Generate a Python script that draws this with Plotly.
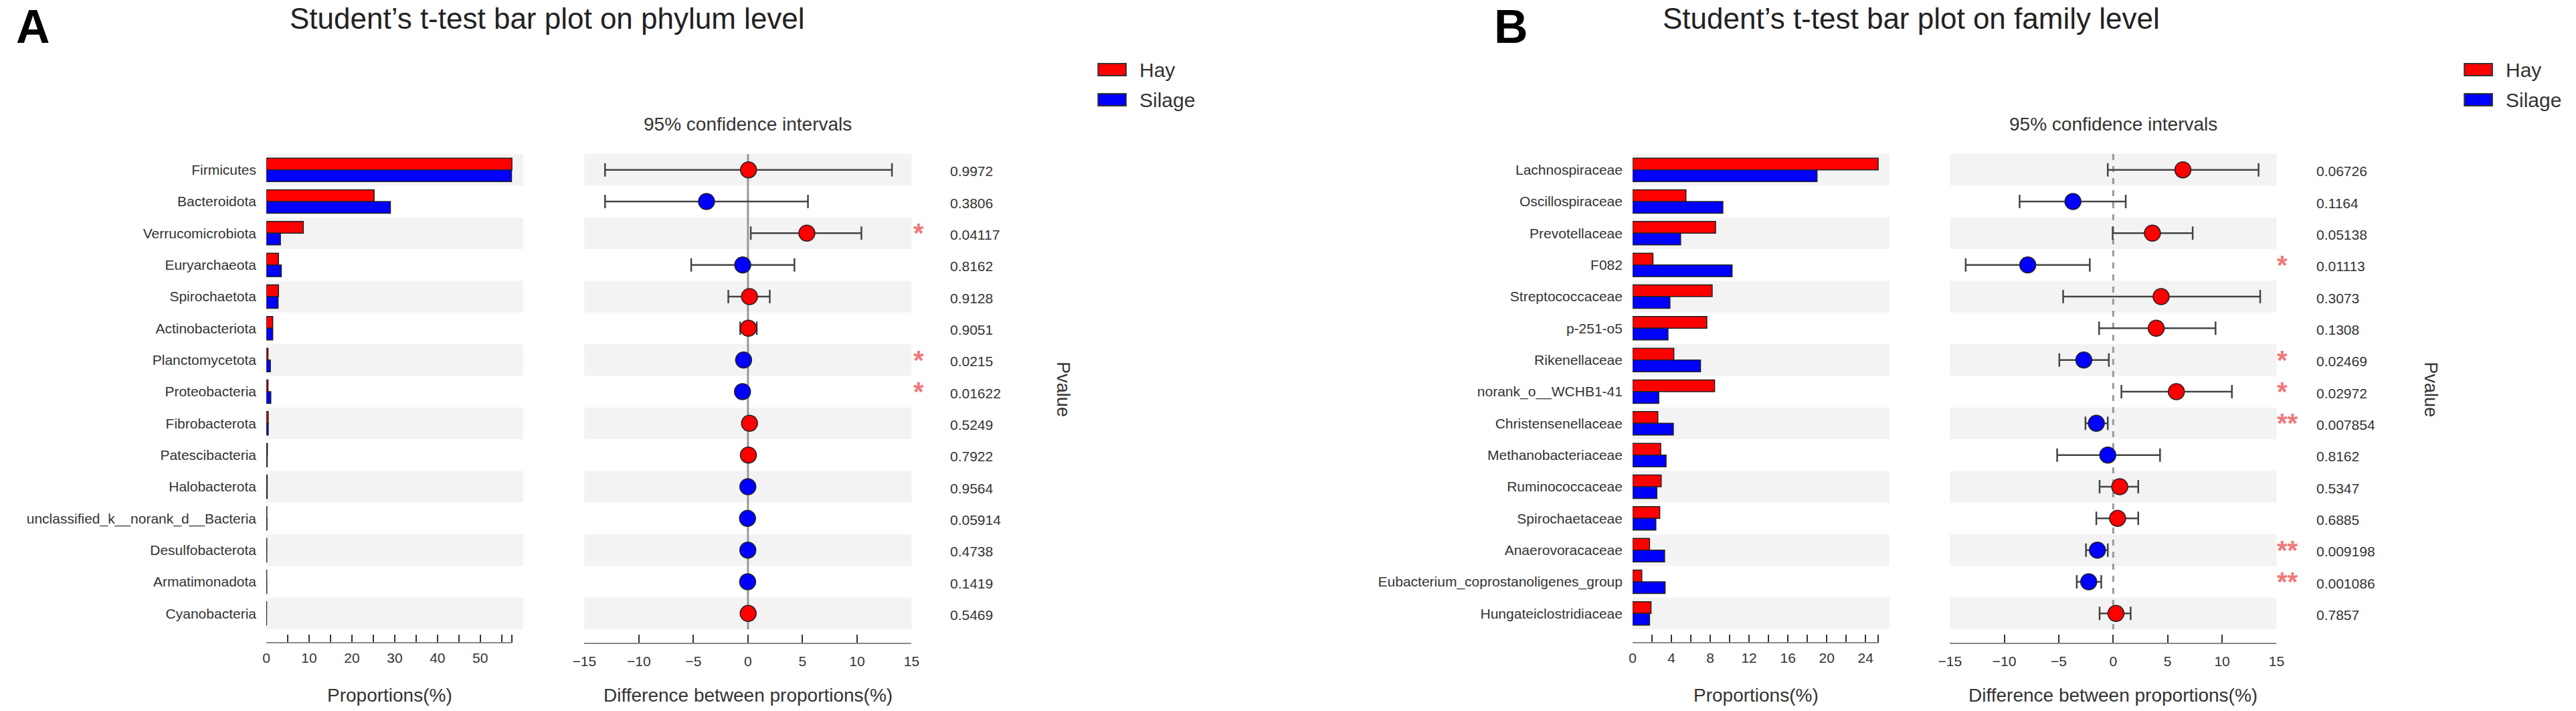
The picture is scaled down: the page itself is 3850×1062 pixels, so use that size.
import plotly.graph_objects as go


W, H = 3850, 1062

# ---- phylum level (panel A) ----
PHYLA = [
    "Firmicutes", "Bacteroidota", "Verrucomicrobiota", "Euryarchaeota",
    "Spirochaetota", "Actinobacteriota", "Planctomycetota", "Proteobacteria",
    "Fibrobacterota", "Patescibacteria", "Halobacterota",
    "unclassified_k__norank_d__Bacteria", "Desulfobacterota",
    "Armatimonadota", "Cyanobacteria",
]
PHYLUM_HAY = [57.4, 25.2, 8.65, 2.85, 2.85, 1.5, 0.4, 0.4, 0.45, 0.25, 0.2, 0.12, 0.1, 0.08, 0.06]
PHYLUM_SILAGE = [57.3, 29.0, 3.3, 3.5, 2.75, 1.5, 0.95, 1.05, 0.45, 0.2, 0.2, 0.15, 0.1, 0.1, 0.05]
PHYLUM_DIFF = [0.05, -3.8, 5.4, -0.48, 0.14, 0.04, -0.4, -0.5, 0.14, 0.04, -0.01, -0.04, -0.01, -0.03, 0.02]
PHYLUM_LOW = [-13.1, -13.1, 0.26, -5.2, -1.8, -0.71, -0.65, -0.8, -0.3, -0.25, -0.3, -0.3, -0.2, -0.25, -0.2]
PHYLUM_HIGH = [13.2, 5.5, 10.4, 4.26, 2.0, 0.81, -0.15, -0.2, 0.6, 0.35, 0.28, 0.0, 0.18, 0.2, 0.25]
PHYLUM_P = [0.9972, 0.3806, 0.04117, 0.8162, 0.9128, 0.9051, 0.0215, 0.01622,
            0.5249, 0.7922, 0.9564, 0.05914, 0.4738, 0.1419, 0.5469]

# ---- family level (panel B) ----
FAMILIES = [
    "Lachnospiraceae", "Oscillospiraceae", "Prevotellaceae", "F082",
    "Streptococcaceae", "p-251-o5", "Rikenellaceae", "norank_o__WCHB1-41",
    "Christensenellaceae", "Methanobacteriaceae", "Ruminococcaceae",
    "Spirochaetaceae", "Anaerovoracaceae",
    "Eubacterium_coprostanoligenes_group", "Hungateiclostridiaceae",
]
FAMILY_HAY = [25.3, 5.5, 8.55, 2.1, 8.2, 7.65, 4.25, 8.45, 2.6, 2.9, 2.95, 2.8, 1.75, 0.95, 1.9]
FAMILY_SILAGE = [19.0, 9.3, 4.95, 10.25, 3.85, 3.65, 7.0, 2.7, 4.2, 3.45, 2.5, 2.4, 3.3, 3.35, 1.75]
FAMILY_DIFF = [6.4, -3.7, 3.6, -7.85, 4.4, 3.95, -2.7, 5.8, -1.55, -0.5, 0.6, 0.4, -1.45, -2.25, 0.25]
FAMILY_LOW = [-0.5, -8.6, -0.05, -13.55, -4.6, -1.3, -4.95, 0.75, -2.55, -5.15, -1.25, -1.55, -2.5, -3.35, -1.25]
FAMILY_HIGH = [13.35, 1.15, 7.3, -2.15, 13.5, 9.4, -0.4, 10.9, -0.5, 4.3, 2.3, 2.3, -0.5, -1.1, 1.6]
FAMILY_P = [0.06726, 0.1164, 0.05138, 0.01113, 0.3073, 0.1308, 0.02469, 0.02972,
            0.007854, 0.8162, 0.5347, 0.6885, 0.009198, 0.001086, 0.7857]

GROUPS = ["Hay", "Silage"]
COLORS = ["#ff0000", "#0000ff"]
CI_TICKS = [-15, -10, -5, 0, 5, 10, 15]

FONT = "Liberation Sans, Arial, sans-serif"
TEXT = "#333333"
STRIPE = "#f3f3f3"


def px(x):
    return x / W


def py(y):
    return 1 - y / H


panels = [
    dict(letter="A", title="Student\u2019s t-test bar plot on phylum level",
         names=PHYLA, hay=PHYLUM_HAY, silage=PHYLUM_SILAGE, diff=PHYLUM_DIFF,
         low=PHYLUM_LOW, high=PHYLUM_HIGH, p=PHYLUM_P, step=5,
         letter_x=32, title_x=806, bar_dom=(383, 770), ci_dom=(862, 1355),
         star_x=1356, p_x=1411, pv_x=1583, leg_x=1636, zero_dash="solid"),
    dict(letter="B", title="Student\u2019s t-test bar plot on family level",
         names=FAMILIES, hay=FAMILY_HAY, silage=FAMILY_SILAGE, diff=FAMILY_DIFF,
         low=FAMILY_LOW, high=FAMILY_HIGH, p=FAMILY_P, step=2,
         letter_x=2258, title_x=2861, bar_dom=(2441, 2828), ci_dom=(2919, 3411),
         star_x=3410, p_x=3469, pv_x=3643, leg_x=3694, zero_dash="dash"),
]

fig = go.Figure()
shapes = []
annotations = []
layout_axes = {}

y_top, y_axis = 230, 960
n = len(PHYLA)
row_px = (940 - y_top) / n
y_range = [n - 0.5 + (y_axis - 940) / row_px, -0.5]


def label(x, y, text, size, **kw):
    d = dict(xref="paper", yref="paper", x=px(x), y=py(y), text=text,
             showarrow=False, xanchor="center", yanchor="middle",
             font=dict(size=size, color=kw.pop("color", TEXT), family=FONT))
    d.update(kw)
    return d


for k, pnl in enumerate(panels):
    xb, xc = 2 * k + 1, 2 * k + 2
    xb_name = "x" if xb == 1 else "x%d" % xb
    yb_name = "y" if xb == 1 else "y%d" % xb
    xc_name, yc_name = "x%d" % xc, "y%d" % xc
    rows = list(range(len(pnl["names"])))
    vmax = max(pnl["hay"] + pnl["silage"])

    # proportions bars
    for g, vals, off in [(0, pnl["hay"], -0.37), (1, pnl["silage"], 0.0)]:
        fig.add_trace(go.Bar(
            x=vals, y=rows, orientation="h", width=0.37, offset=off,
            marker=dict(color=COLORS[g], line=dict(color="#222222", width=1.5)),
            name=GROUPS[g], showlegend=False,
            xaxis=xb_name, yaxis=yb_name,
        ))

    # difference with 95% CI
    fig.add_trace(go.Scatter(
        x=pnl["diff"], y=rows, mode="markers",
        marker=dict(size=24, color=[COLORS[0] if d > 0 else COLORS[1] for d in pnl["diff"]],
                    line=dict(color="#222222", width=1.5)),
        error_x=dict(type="data", symmetric=False,
                     array=[h - d for h, d in zip(pnl["high"], pnl["diff"])],
                     arrayminus=[d - l for d, l in zip(pnl["diff"], pnl["low"])],
                     color="#444444", thickness=2.5, width=10),
        showlegend=False, xaxis=xc_name, yaxis=yc_name,
    ))

    # bar axis ticks
    tv = list(range(0, int(vmax) + 1, pnl["step"])) + [vmax]
    tt = [str(v) if (v % (2 * pnl["step"]) == 0 and i < len(tv) - 1) else "" for i, v in enumerate(tv)]

    axis_common = dict(showgrid=False, zeroline=False, ticks="inside", ticklen=12,
                       tickwidth=2, tickcolor="#333333",
                       tickfont=dict(size=21, color=TEXT, family=FONT),
                       ticklabelstandoff=8)
    layout_axes["xaxis" if xb == 1 else "xaxis%d" % xb] = dict(
        domain=[px(pnl["bar_dom"][0]), px(pnl["bar_dom"][1])],
        range=[0, vmax * 1.046], anchor=yb_name, showline=False,
        tickvals=tv, ticktext=tt, **axis_common)
    layout_axes["xaxis%d" % xc] = dict(
        domain=[px(pnl["ci_dom"][0]), px(pnl["ci_dom"][1])],
        range=[CI_TICKS[0], CI_TICKS[-1]], anchor=yc_name, showline=True,
        linecolor="#888888", linewidth=2, tickvals=CI_TICKS, **axis_common)
    layout_axes["yaxis" if xb == 1 else "yaxis%d" % xb] = dict(
        domain=[py(y_axis), py(y_top)], range=y_range, anchor=xb_name,
        tickvals=rows, ticktext=pnl["names"], showgrid=False, zeroline=False,
        ticks="", ticklabelstandoff=14,
        tickfont=dict(size=21, color=TEXT, family=FONT))
    layout_axes["yaxis%d" % xc] = dict(
        domain=[py(y_axis), py(y_top)], range=y_range, anchor=xc_name,
        showticklabels=False, showgrid=False, zeroline=False)

    # stripes
    for r in rows[::2]:
        for xr, yr in [(xb_name, yb_name), (xc_name, yc_name)]:
            shapes.append(dict(type="rect", xref=xr + " domain", yref=yr,
                               x0=0, x1=1, y0=r - 0.5, y1=r + 0.5,
                               fillcolor=STRIPE, line=dict(width=0), layer="below"))
    # zero line and bar axis line
    shapes.append(dict(type="line", xref=xc_name, yref=yc_name, x0=0, x1=0,
                       y0=-0.5, y1=len(rows) - 0.5, layer="below",
                       line=dict(color="#999999", width=3, dash=pnl["zero_dash"])))
    shapes.append(dict(type="line", xref=xb_name, yref=yb_name + " domain",
                       x0=0, x1=vmax, y0=0, y1=0,
                       line=dict(color="#888888", width=2)))

    # p-values and significance stars
    for r, p in zip(rows, pnl["p"]):
        annotations.append(dict(xref="paper", yref=yc_name, x=px(pnl["p_x"]), y=r,
                                xanchor="left", yanchor="middle", showarrow=False,
                                text=str(p), yshift=-2,
                                font=dict(size=21, color=TEXT, family=FONT)))
        stars = "**" if p < 0.01 else ("*" if p < 0.05 else "")
        if stars:
            annotations.append(dict(xref="paper", yref=yc_name, x=px(pnl["star_x"]), y=r,
                                    xanchor="left", yanchor="middle", showarrow=False,
                                    text="<b>%s</b>" % stars, yshift=0,
                                    font=dict(size=40, color="#f07878", family=FONT)))

    # texts
    annotations += [
        label(pnl["letter_x"], 0, "<b>%s</b>" % pnl["letter"], 70, color="#000000",
              yanchor="top", borderpad=0),
        label(pnl["title_x"], 27, pnl["title"], 44, color="#222222"),
        label(sum(pnl["ci_dom"]) / 2, 185, "95% confidence intervals", 28),
        label(sum(pnl["bar_dom"]) / 2 - 8, 1038, "Proportions(%)", 28),
        label(sum(pnl["ci_dom"]) / 2, 1038, "Difference between proportions(%)", 28),
        label(pnl["pv_x"], 582, "Pvalue", 27, textangle=90),
    ]

    # legend
    for g, (name, col) in enumerate(zip(GROUPS, COLORS)):
        yc = 104 + 45 * g
        shapes.append(dict(type="rect", xref="paper", yref="paper",
                           x0=px(pnl["leg_x"]), x1=px(pnl["leg_x"] + 42),
                           y0=py(yc + 9), y1=py(yc - 9), fillcolor=col,
                           line=dict(color="#333333", width=2)))
        annotations.append(label(pnl["leg_x"] + 60, yc, name, 30, xanchor="left"))

fig.update_layout(
    width=W, height=H,
    margin=dict(l=0, r=0, t=0, b=0),
    paper_bgcolor="white", plot_bgcolor="white",
    font=dict(family=FONT, color=TEXT),
    showlegend=False,
    shapes=shapes, annotations=annotations,
    **layout_axes
)

fig.write_html("out.html", config={"displayModeBar": False},
               post_script="document.body.style.margin='0px';")
